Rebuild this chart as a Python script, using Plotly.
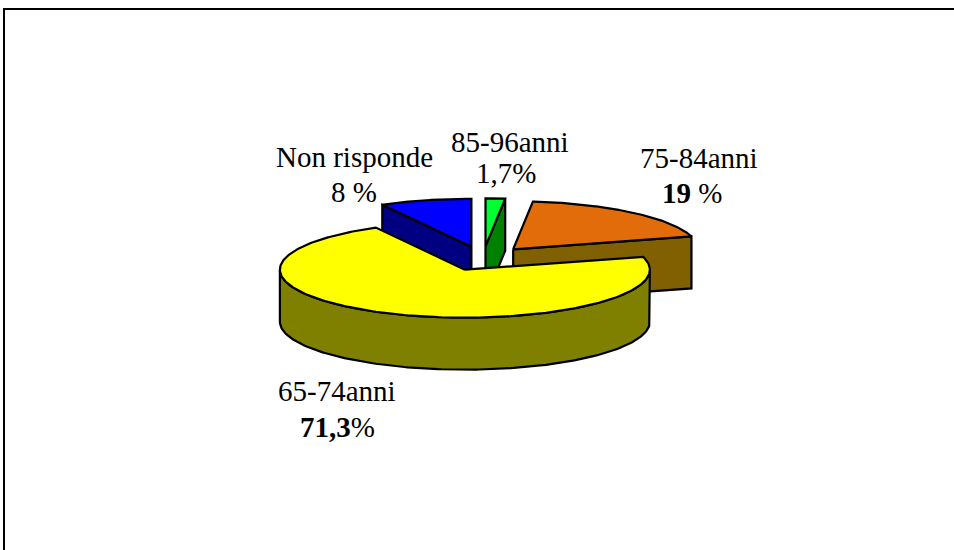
import numpy as np
import plotly.graph_objects as go

# Data
categories = ["85-96anni", "75-84anni", "65-74anni", "Non risponde"]
values = [1.7, 19.0, 71.3, 8.0]
value_labels = ["1,7%", "<b>19</b> %", "<b>71,3</b>%", "8 %"]

# Colours
top_colors = ["#00FF33", "#E36C0A", "#FFFF00", "#0000FF"]
side_colors = ["#008000", "#806000", "#808000", "#000080"]

# Pie projection (pixel-like axis units)
CX, CY = 483.0, 258.5
RX, RY = 185.0, 48.0
DEPTH = 52.0
EXPLODE = 0.252
START_ANGLE = 90.0
DRAW_ORDER = [3, 0, 1, 2]

name_pos = [(510, 142), (699, 158), (337, 391), (354, 157)]
value_pos = [(506, 173), (692, 193), (337, 427), (354, 192)]


def pt(c, ang, dy=0.0):
    a = np.radians(ang)
    return c[0] + RX * np.cos(a), c[1] - RY * np.sin(a) + dy


def add_poly(fig, xs, ys, color, name):
    fig.add_trace(go.Scatter(
        x=list(xs), y=list(ys), mode="lines", fill="toself", fillcolor=color,
        line=dict(color="black", width=2.2), showlegend=False, hoverinfo="skip", name=name,
    ))


fig = go.Figure()

# compute slice spans, clockwise from 12 o'clock
fractions = np.array(values) / sum(values) * 360.0
ends = START_ANGLE - np.cumsum(fractions)
starts = ends + fractions
mids = (starts + ends) / 2

for i in DRAW_ORDER:
    a0, a1, m = starts[i], ends[i], np.radians(mids[i])
    c = (CX + EXPLODE * RX * np.cos(m), CY - EXPLODE * RY * np.sin(m))
    # radial faces
    for ang, normal in ((a0, a0 + 90), (a1, a1 - 90)):
        if np.sin(np.radians(normal)) < -1e-6:
            px, py = pt(c, ang)
            add_poly(fig, [c[0], px, px, c[0], c[0]],
                     [c[1], py, py + DEPTH, c[1] + DEPTH, c[1]], side_colors[i], categories[i])
    # outer wall (only the lower half of the ellipse faces the viewer)
    arc = np.linspace(a1, a0, 240)
    vis = arc[np.sin(np.radians(arc)) <= 0]
    if vis.size:
        xt, yt = pt(c, vis)
        xb, yb = pt(c, vis[::-1], DEPTH)
        add_poly(fig, np.r_[xt, xb, xt[0]], np.r_[yt, yb, yt[0]], side_colors[i], categories[i])
    # top face
    arc = np.linspace(a0, a1, 240)
    xt, yt = pt(c, arc)
    add_poly(fig, np.r_[c[0], xt, c[0]], np.r_[c[1], yt, c[1]], top_colors[i], categories[i])

for text, (x, y) in zip(categories + value_labels, name_pos + value_pos):
    fig.add_annotation(x=x, y=y, xref="x", yref="y", showarrow=False, align="center",
                       text=text,
                       font=dict(family="Liberation Serif", size=29, color="black"))

fig.update_layout(
    width=954, height=550, margin=dict(l=5, r=0, t=10, b=0),
    paper_bgcolor="white", plot_bgcolor="white", showlegend=False,
    xaxis=dict(range=[5, 954], side="top", showline=True, linecolor="black", linewidth=2,
               showgrid=False, zeroline=False, ticks="", showticklabels=False, fixedrange=True),
    yaxis=dict(range=[550, 10], showline=True, linecolor="black", linewidth=2,
               showgrid=False, zeroline=False, ticks="", showticklabels=False, fixedrange=True),
)
fig.write_html("out.html", config={"displayModeBar": False},
               post_script="document.body.style.margin='0';")
